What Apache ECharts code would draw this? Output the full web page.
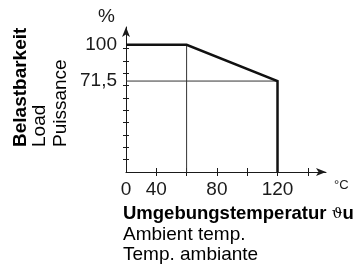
<!DOCTYPE html>
<html>
<head>
<meta charset="utf-8">
<script src="https://cdn.jsdelivr.net/npm/echarts@6/dist/echarts.min.js"></script>
<style>
  html, body { margin: 0; padding: 0; background: #fff; }
  #chart { width: 361px; height: 267px; }
</style>
</head>
<body>
<div id="chart"></div>
<script>
// derating curve: ambient temperature (°C) -> load (%)
const curveTemp = [0, 60, 120, 120]
const curveLoad = [100, 100, 71.5, 0]

// thin helper lines
const kneeTemp = 60
const kneeLoad = 100
const endTemp = 120
const endLoad = 71.5

// tick labels
const xLabelTemps = [0, 40, 80, 120]
const xTickTemps = [40, 60, 80, 100, 120, 140]
const yLabelValues = [100, 71.5]
const yTickStep = 9.7

const FONT = '"Liberation Sans", Arial, sans-serif'
const INK = '#1a1a1a'

// the drawing squeezes 0..40 °C into one tick step
function toAxis (t) {
  return t < 40 ? 20 + t / 2 : t
}

const yTicks = []
for (let v = yTickStep; v < 100; v += yTickStep) yTicks.push(+v.toFixed(2))

const curve = curveTemp.map((t, i) => [toAxis(t), curveLoad[i]])
const hLine = [[toAxis(0), endLoad], [toAxis(endTemp), endLoad]]
const vLine = [[toAxis(kneeTemp), 0], [toAxis(kneeTemp), kneeLoad]]

const xLabelPos = xLabelTemps.map(toAxis)

const chart = echarts.init(document.getElementById('chart'), null, { renderer: 'canvas' })

const xBase = {
  type: 'value',
  min: 20,
  max: 152,
  position: 'bottom',
  splitLine: { show: false }
}
const yBase = {
  type: 'value',
  min: 0,
  max: 114,
  position: 'left',
  splitLine: { show: false }
}

chart.setOption({
  animation: false,
  grid: { left: 126, right: 35, top: 27, bottom: 95, containLabel: false },
  xAxis: [
    Object.assign({}, xBase, {
      name: '°C',
      nameLocation: 'end',
      nameGap: 8,
      nameTextStyle: { fontFamily: FONT, fontSize: 13, color: INK, verticalAlign: 'top', padding: [7, 0, 0, 0] },
      axisLine: { lineStyle: { color: INK, width: 1 }, symbol: ['none', 'arrow'], symbolSize: [6, 10] },
      axisTick: { show: true, length: 4, customValues: xTickTemps, lineStyle: { color: INK } },
      axisLabel: {
        customValues: xLabelPos,
        margin: 8,
        fontFamily: FONT,
        fontSize: 19,
        color: INK,
        formatter: (v) => String(xLabelTemps[xLabelPos.indexOf(v)])
      }
    }),
    Object.assign({}, xBase, {
      axisLine: { show: false },
      axisTick: { show: true, inside: true, length: 4, customValues: xTickTemps, lineStyle: { color: INK } },
      axisLabel: { show: false }
    })
  ],
  yAxis: [
    Object.assign({}, yBase, {
      name: '%',
      nameLocation: 'end',
      nameGap: 1,
      nameTextStyle: { fontFamily: FONT, fontSize: 19, color: INK, align: 'right', padding: [0, 11, 0, 0] },
      axisLine: { lineStyle: { color: INK, width: 1 }, symbol: ['none', 'arrow'], symbolSize: [6, 10] },
      axisTick: { show: true, length: 3, customValues: yTicks, lineStyle: { color: INK } },
      axisLabel: {
        customValues: yLabelValues,
        margin: 9,
        fontFamily: FONT,
        fontSize: 19,
        color: INK,
        formatter: (v) => String(v).replace('.', ',')
      }
    }),
    Object.assign({}, yBase, {
      axisLine: { show: false },
      axisTick: { show: true, inside: true, length: 3, customValues: yTicks, lineStyle: { color: INK } },
      axisLabel: { show: false }
    })
  ],
  series: [
    {
      type: 'line',
      data: hLine,
      symbol: 'none',
      silent: true,
      lineStyle: { color: '#333', width: 1 }
    },
    {
      type: 'line',
      data: vLine,
      symbol: 'none',
      silent: true,
      lineStyle: { color: '#333', width: 1 }
    },
    {
      type: 'line',
      data: curve,
      symbol: 'none',
      silent: true,
      lineStyle: { color: '#111', width: 2.5, join: 'miter' }
    }
  ],
  graphic: [
    // rotated y titles
    { type: 'text', x: 21, y: 147, rotation: Math.PI / 2,
      style: { text: 'Belastbarkeit', fontFamily: FONT, fontSize: 19, fontWeight: 'bold', fill: '#000', align: 'left', verticalAlign: 'middle' } },
    { type: 'text', x: 40, y: 147, rotation: Math.PI / 2,
      style: { text: 'Load', fontFamily: FONT, fontSize: 19, fill: '#000', align: 'left', verticalAlign: 'middle' } },
    { type: 'text', x: 61, y: 147, rotation: Math.PI / 2,
      style: { text: 'Puissance', fontFamily: FONT, fontSize: 19, fill: '#000', align: 'left', verticalAlign: 'middle' } },
    // x titles
    { type: 'text', x: 123, y: 214,
      style: {
        text: '{b|Umgebungstemperatur }{t|ϑ}{b|u}',
        fill: '#000',
        align: 'left',
        verticalAlign: 'middle',
        rich: {
          b: { fontFamily: FONT, fontSize: 18.5, fontWeight: 'bold', fill: '#000' },
          t: { fontFamily: '"DejaVu Serif", serif', fontSize: 15, fill: '#000' }
        }
      } },
    { type: 'text', x: 123, y: 235,
      style: { text: 'Ambient temp.', fontFamily: FONT, fontSize: 19, fill: '#000', align: 'left', verticalAlign: 'middle' } },
    { type: 'text', x: 123, y: 255,
      style: { text: 'Temp. ambiante', fontFamily: FONT, fontSize: 19, fill: '#000', align: 'left', verticalAlign: 'middle' } }
  ]
})
</script>
</body>
</html>
